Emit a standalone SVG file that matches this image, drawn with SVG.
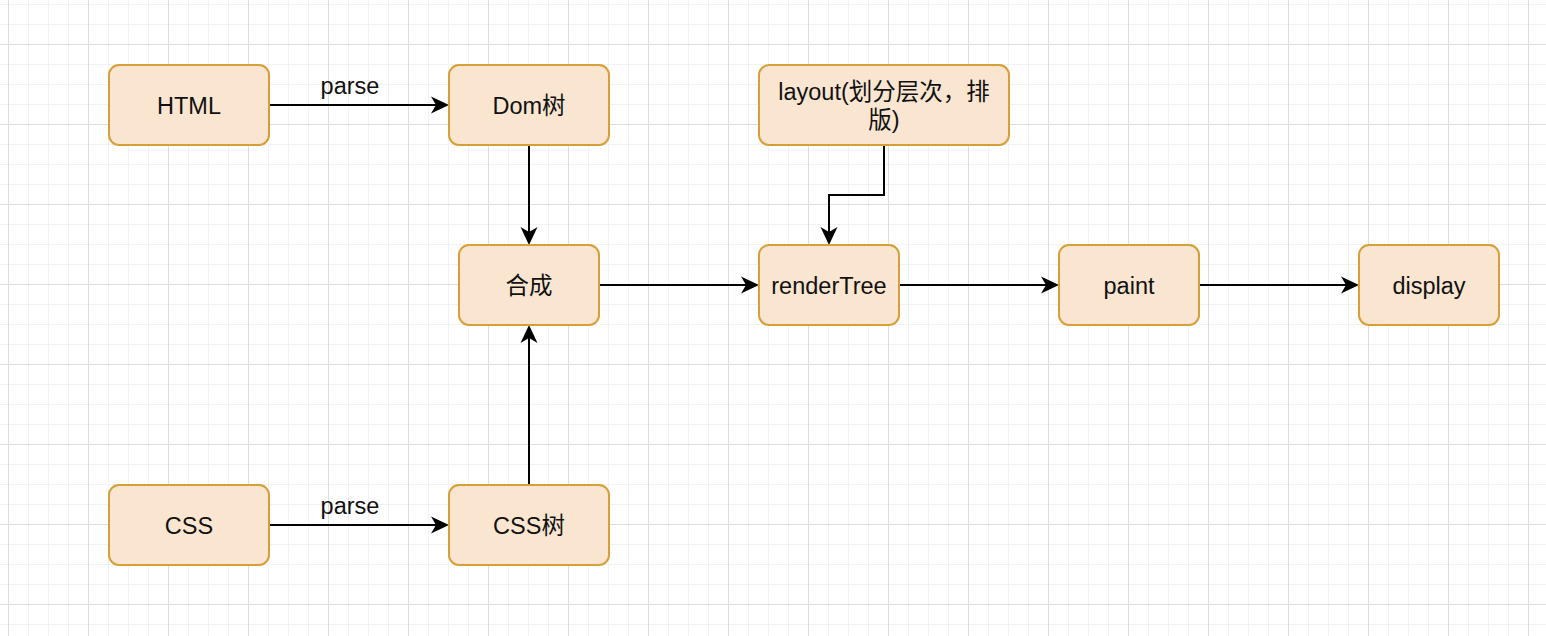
<svg xmlns="http://www.w3.org/2000/svg" width="1546" height="636" viewBox="0 0 1546 636">
  <style>
    .node rect { fill: #fae6d0; stroke: #d69f38; stroke-width: 2; }
    .node text, .label { font-family: "Liberation Sans", "Noto Sans CJK SC", sans-serif; font-size: 23.5px; fill: #111; text-anchor: middle; }
    .edge { fill: none; stroke: #000; stroke-width: 2; marker-end: url(#arrow); }
  </style>
  <defs>
    <pattern id="minor" patternUnits="userSpaceOnUse" x="8" y="4" width="20" height="20">
      <path d="M0.5,0 V20 M0,0.5 H20" stroke="#f2f2f2" stroke-width="1" fill="none"/>
    </pattern>
    <pattern id="major" patternUnits="userSpaceOnUse" x="8" y="44" width="80" height="80">
      <path d="M0.5,0 V80 M0,0.5 H80" stroke="#dddddd" stroke-width="1" fill="none"/>
    </pattern>
    <marker id="arrow" viewBox="0 0 18 18" refX="8" refY="9" markerWidth="18" markerHeight="18" markerUnits="userSpaceOnUse" orient="auto">
      <path d="M18,9 L0,0.5 L5,9 L0,17.5 Z" fill="#000"/>
    </marker>
  </defs>

  <rect x="0" y="0" width="1546" height="636" fill="#ffffff"/>
  <rect x="0" y="0" width="1546" height="636" fill="url(#minor)"/>
  <rect x="0" y="0" width="1546" height="636" fill="url(#major)"/>

  <g id="connectors">
    <path class="edge" d="M269,105 H439"/>
    <path class="edge" d="M529,145 V235"/>
    <path class="edge" d="M269,525 H439"/>
    <path class="edge" d="M529,485 V335"/>
    <path class="edge" d="M599,285 H749"/>
    <path class="edge" d="M884,145 V195 H829 V235"/>
    <path class="edge" d="M899,285 H1049"/>
    <path class="edge" d="M1199,285 H1349"/>
    <text class="label" x="350" y="94">parse</text>
    <text class="label" x="350" y="514">parse</text>
  </g>

  <g id="html" class="node">
    <rect x="109" y="65" width="160" height="80" rx="10"/>
    <text x="189" y="114">HTML</text>
  </g>
  <g id="dom" class="node">
    <rect x="449" y="65" width="160" height="80" rx="10"/>
    <text x="529" y="114">Dom树</text>
  </g>
  <g id="layout" class="node">
    <rect x="759" y="65" width="250" height="80" rx="10"/>
    <text x="884" y="99.5">layout(划分层次，排</text>
    <text x="884" y="127.5">版)</text>
  </g>
  <g id="hecheng" class="node">
    <rect x="459" y="245" width="140" height="80" rx="10"/>
    <text x="529" y="294">合成</text>
  </g>
  <g id="rendertree" class="node">
    <rect x="759" y="245" width="140" height="80" rx="10"/>
    <text x="829" y="294">renderTree</text>
  </g>
  <g id="paint" class="node">
    <rect x="1059" y="245" width="140" height="80" rx="10"/>
    <text x="1129" y="294">paint</text>
  </g>
  <g id="display" class="node">
    <rect x="1359" y="245" width="140" height="80" rx="10"/>
    <text x="1429" y="294">display</text>
  </g>
  <g id="css" class="node">
    <rect x="109" y="485" width="160" height="80" rx="10"/>
    <text x="189" y="534">CSS</text>
  </g>
  <g id="csstree" class="node">
    <rect x="449" y="485" width="160" height="80" rx="10"/>
    <text x="529" y="534">CSS树</text>
  </g>
</svg>
